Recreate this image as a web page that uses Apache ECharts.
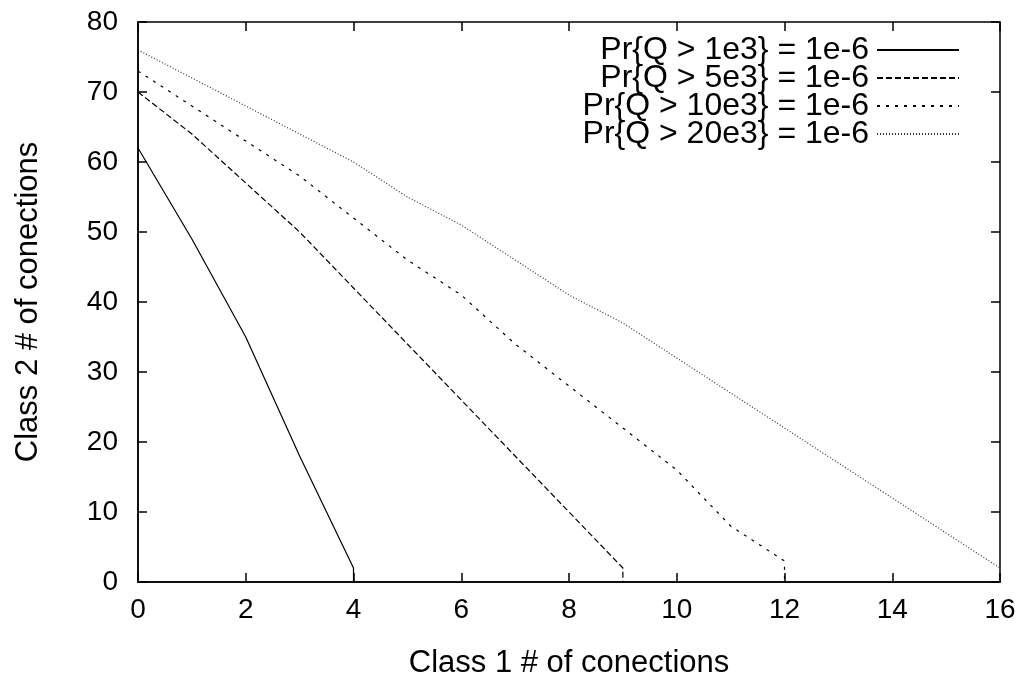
<!DOCTYPE html>
<html lang="en">
<head>
    <meta charset="UTF-8">
    <title>Class 1 vs Class 2 connections</title>
    <script src="https://cdn.jsdelivr.net/npm/echarts@6/dist/echarts.min.js"></script>
    <style>
        html, body { margin: 0; padding: 0; background: #fff; }
        #container { width: 1022px; height: 677px; }
    </style>
</head>
<body>
    <div id="container"></div>
    <script type="text/javascript">
        var names = ['Pr{Q > 1e3} = 1e-6', 'Pr{Q > 5e3} = 1e-6', 'Pr{Q > 10e3} = 1e-6', 'Pr{Q > 20e3} = 1e-6'];

        var x1 = [0, 1, 2, 3, 4, 4];
        var y1 = [62, 49, 35, 18, 2, 0];
        var x2 = [0, 1, 2, 3, 4, 5, 6, 7, 8, 9, 9];
        var y2 = [70, 64, 57, 50, 42, 34, 26, 18, 10, 2, 0];
        var x3 = [0, 1, 2, 3, 4, 5, 6, 7, 8, 9, 10, 11, 12, 12];
        var y3 = [73, 68, 63, 58, 52, 46, 41, 34, 28, 22, 16, 8, 3, 0];
        var x4 = [0, 1, 2, 3, 4, 5, 6, 7, 8, 9, 10, 11, 12, 13, 14, 15, 16];
        var y4 = [76, 72, 68, 64, 60, 55, 51, 46, 41, 37, 32, 27, 22, 17, 12, 7, 2];

        function pairs(xs, ys) {
            var out = [];
            for (let i = 0; i < xs.length; i++) out.push([xs[i], ys[i]]);
            return out;
        }

        var dashes = ['solid', [6, 3], [3, 6], [1, 2]];
        var colors = ['#000', '#000', '#000', '#333'];
        var allData = [pairs(x1, y1), pairs(x2, y2), pairs(x3, y3), pairs(x4, y4)];

        var W = 1022, H = 677;
        var gl = 138, gr = 22, gt = 22, gb = 95;
        var plotW = W - gl - gr, plotH = H - gt - gb;

        var font = 'Liberation Sans, Arial, Helvetica, sans-serif';
        var black = { color: '#000', width: 1.5 };

        // tick-only axes: put on the opposite side so their outward ticks point into the plot
        function tickAxisX(pos, off) {
            return {
                type: 'value', min: 0, max: 16, interval: 2, position: pos, offset: off,
                axisLine: { show: false, onZero: false },
                axisTick: { show: true, length: 9, lineStyle: black },
                axisLabel: { show: false },
                splitLine: { show: false }
            };
        }
        function tickAxisY(pos, off) {
            return {
                type: 'value', min: 0, max: 80, interval: 10, position: pos, offset: off,
                axisLine: { show: false, onZero: false },
                axisTick: { show: true, length: 9, lineStyle: black },
                axisLabel: { show: false },
                splitLine: { show: false }
            };
        }

        var myChart = echarts.init(document.getElementById('container'), null, { renderer: 'canvas' });

        var series = names.map(function (n, i) {
            return {
                name: n,
                type: 'line',
                xAxisIndex: 0,
                yAxisIndex: 0,
                symbol: 'none',
                data: allData[i],
                color: colors[i],
                lineStyle: { color: colors[i], width: 1.2, type: dashes[i] }
            };
        });
        // empty series so the tick axes get drawn
        series.push({ type: 'line', xAxisIndex: 1, yAxisIndex: 1, data: [], symbol: 'none', silent: true });
        series.push({ type: 'line', xAxisIndex: 2, yAxisIndex: 2, data: [], symbol: 'none', silent: true });

        var option = {
            animation: false,
            backgroundColor: '#fff',
            textStyle: { fontFamily: font },
            grid: {
                left: gl, right: gr, top: gt, bottom: gb,
                outerBoundsMode: 'none', containLabel: false,
                show: true, borderColor: '#000', borderWidth: 1.5
            },
            legend: {
                orient: 'vertical',
                right: 57,
                top: 29,
                align: 'right',
                itemWidth: 82,
                itemHeight: 27,
                itemGap: -4,
                itemStyle: { opacity: 0 },
                textStyle: { fontSize: 32, color: '#000', fontFamily: font, padding: [0, 3, 0, 0] },
                data: names
            },
            xAxis: [{
                type: 'value', min: 0, max: 16, interval: 2, position: 'bottom',
                name: 'Class 1 # of conections', nameLocation: 'middle', nameGap: 66,
                nameTextStyle: { fontSize: 31, color: '#000' },
                axisLine: { show: true, onZero: false, lineStyle: black },
                axisTick: { show: false },
                axisLabel: { fontSize: 28, color: '#000', margin: 14 },
                splitLine: { show: false }
            },
                tickAxisX('top', -plotH),
                tickAxisX('bottom', -plotH)
            ],
            yAxis: [{
                type: 'value', min: 0, max: 80, interval: 10, position: 'left',
                name: 'Class 2 # of conections', nameLocation: 'middle', nameGap: 94,
                nameTextStyle: { fontSize: 31, color: '#000' },
                axisLine: { show: true, onZero: false, lineStyle: black },
                axisTick: { show: false },
                axisLabel: { fontSize: 28, color: '#000', margin: 20 },
                splitLine: { show: false }
            },
                tickAxisY('right', -plotW),
                tickAxisY('left', -plotW)
            ],
            series: series
        };

        myChart.setOption(option);
        window.addEventListener('resize', myChart.resize);
    </script>
</body>
</html>
